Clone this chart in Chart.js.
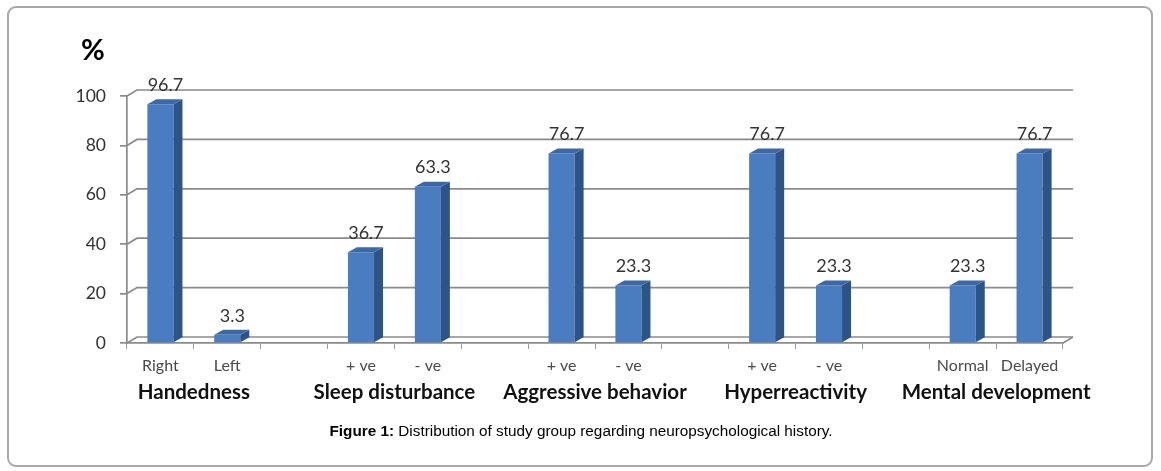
<!DOCTYPE html>
<html>
<head>
<meta charset="utf-8">
<script src="https://cdn.jsdelivr.net/npm/chart.js@4"></script>
<style>
body{margin:0;background:#fff}
#wrap{width:1161px;height:471px;position:relative}
</style>
</head>
<body>
<div id="wrap"><canvas id="c"></canvas></div>
<script>
// categories (empty slots are the gaps between groups)
var labels = ['Right', 'Left', '', '+ ve', '- ve', '', '+ ve', '- ve', '', '+ ve', '- ve', '', 'Normal', 'Delayed'];
var values = [96.7, 3.3, null, 36.7, 63.3, null, 76.7, 23.3, null, 76.7, 23.3, null, 23.3, 76.7];
var groups = ['Handedness', 'Sleep disturbance', 'Aggressive behavior', 'Hyperreactivity', 'Mental development'];
var groupStart = [0, 3, 6, 9, 12];
var yTicks = [0, 20, 40, 60, 80, 100];
var caption = ['Figure 1:', ' Distribution of study group regarding neuropsychological history.'];

var DX = 10, DY = 6;     // back wall offset
var BX = 9, BY = 5;      // bar depth

var frame = {
  id: 'frame',
  beforeDraw: function(chart) {
    var ctx = chart.ctx;
    ctx.save();
    ctx.fillStyle = '#fff';
    ctx.fillRect(0, 0, chart.width, chart.height);
    ctx.strokeStyle = '#a8a8a8';
    ctx.lineWidth = 2;
    ctx.beginPath();
    ctx.roundRect(8, 7, 1144, 459, 8);
    ctx.stroke();
    ctx.restore();
  }
};

var wall = {
  id: 'wall',
  beforeDatasetsDraw: function(chart) {
    var ctx = chart.ctx, a = chart.chartArea, ys = chart.scales.y;
    ctx.save();
    ctx.strokeStyle = '#8a8a8a';
    ctx.lineWidth = 1.7;
    yTicks.forEach(function(v) {
      var py = ys.getPixelForValue(v);
      ctx.beginPath();
      ctx.moveTo(a.left, py);
      ctx.lineTo(a.left + DX, py - DY);
      ctx.lineTo(a.right + DX, py - DY);
      ctx.stroke();
    });
    // floor right edge
    var b = ys.getPixelForValue(0);
    ctx.beginPath();
    ctx.moveTo(a.right, b);
    ctx.lineTo(a.right + DX, b - DY);
    ctx.stroke();
    ctx.restore();
  }
};

var bars3d = {
  id: 'bars3d',
  afterDatasetsDraw: function(chart) {
    var ctx = chart.ctx;
    var meta = chart.getDatasetMeta(0);
    ctx.save();
    meta.data.forEach(function(el, i) {
      if (values[i] == null) return;
      var p = el.getProps(['x', 'y', 'width', 'base'], true);
      var l = p.x - p.width / 2, r = p.x + p.width / 2;
      // side
      ctx.fillStyle = '#2d5487';
      ctx.beginPath();
      ctx.moveTo(r, p.y);
      ctx.lineTo(r + BX, p.y - BY);
      ctx.lineTo(r + BX, p.base - BY);
      ctx.lineTo(r, p.base);
      ctx.closePath();
      ctx.fill();
      // top
      ctx.fillStyle = '#3c69a6';
      ctx.beginPath();
      ctx.moveTo(l, p.y);
      ctx.lineTo(l + BX, p.y - BY);
      ctx.lineTo(r + BX, p.y - BY);
      ctx.lineTo(r, p.y);
      ctx.closePath();
      ctx.fill();
      // value label
      ctx.fillStyle = '#333';
      ctx.font = '18px Lato';
      ctx.textAlign = 'center';
      ctx.textBaseline = 'middle';
      ctx.fillText(values[i].toFixed(1), p.x + 5, p.y - 19);
    });
    ctx.restore();
  }
};

var texts = {
  id: 'texts',
  afterDraw: function(chart) {
    var ctx = chart.ctx, xs = chart.scales.x;
    ctx.save();
    ctx.fillStyle = '#111';
    ctx.textBaseline = 'middle';
    ctx.textAlign = 'center';
    ctx.font = 'bold 20.5px Lato';
    groups.forEach(function(g, i) {
      var x = (xs.getPixelForValue(groupStart[i]) + xs.getPixelForValue(groupStart[i] + 1)) / 2;
      ctx.fillText(g, x, 392);
    });
    ctx.font = 'bold 29px Lato';
    ctx.fillStyle = '#000';
    ctx.fillText('%', 93, 51);
    // caption
    ctx.font = 'bold 15.3px "Liberation Sans"';
    var w1 = ctx.measureText(caption[0]).width;
    ctx.font = '15.3px "Liberation Sans"';
    var w2 = ctx.measureText(caption[1]).width;
    var x0 = 581 - (w1 + w2) / 2;
    ctx.textAlign = 'left';
    ctx.font = 'bold 15.3px "Liberation Sans"';
    ctx.fillText(caption[0], x0, 432);
    ctx.font = '15.3px "Liberation Sans"';
    ctx.fillText(caption[1], x0 + w1, 432);
    ctx.restore();
  }
};

new Chart(document.getElementById('c'), {
  type: 'bar',
  data: {
    labels: labels,
    datasets: [{
      data: values,
      backgroundColor: '#4a7dc0',
      categoryPercentage: 1,
      barPercentage: 0.39
    }]
  },
  options: {
    responsive: true,
    maintainAspectRatio: false,
    animation: false,
    layout: { padding: { left: 10, right: 98, top: 96, bottom: 0 } },
    plugins: { legend: { display: false }, tooltip: { enabled: false } },
    scales: {
      y: {
        min: 0, max: 100,
        afterFit: function(s) { s.width = 117; },
        ticks: { stepSize: 20, color: '#333', font: { family: 'Lato', size: 17.5 }, padding: 14 },
        grid: { drawOnChartArea: false, tickLength: 7, color: '#8a8a8a', lineWidth: 1.7 },
        border: { color: '#8a8a8a', width: 1.7 }
      },
      x: {
        afterFit: function(s) { s.height = 128; },
        ticks: { color: '#4a4a4a', font: { family: 'Lato', size: 16 }, autoSkip: false, maxRotation: 0, padding: 7 },
        grid: { drawOnChartArea: false, tickLength: 6, color: '#999', offset: true },
        border: { color: '#8a8a8a', width: 1.7 }
      }
    }
  },
  plugins: [frame, wall, bars3d, texts]
});
</script>
</body>
</html>
